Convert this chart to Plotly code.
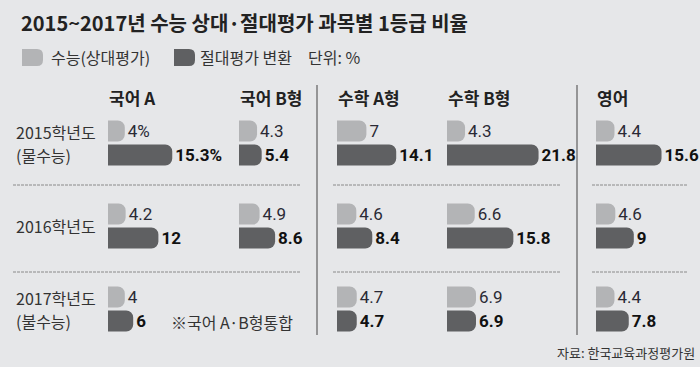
import plotly.graph_objects as go

# ---------------- data ----------------
years = ["2015학년도", "2016학년도", "2017학년도"]
year_line1 = ["2015학년도", "2016학년도", "2017학년도"]
year_line2 = ["(물수능)", "", "(불수능)"]
subjects = ["국어 A", "국어 B형", "수학 A형", "수학 B형", "영어"]

relative_kor_a = [4, 4.2, 4]
absolute_kor_a = [15.3, 12, 6]
relative_kor_b = [4.3, 4.9, None]
absolute_kor_b = [5.4, 8.6, None]
relative_math_a = [7, 4.6, 4.7]
absolute_math_a = [14.1, 8.4, 4.7]
relative_math_b = [4.3, 6.6, 6.9]
absolute_math_b = [21.8, 15.8, 6.9]
relative_eng = [4.4, 4.6, 4.4]
absolute_eng = [15.6, 9, 7.8]

relative_text_kor_a = ["4%", "4.2", "4"]
absolute_text_kor_a = ["15.3%", "12", "6"]

title_text = "2015~2017년 수능 상대·절대평가 과목별 1등급 비율"
legend_relative = "수능(상대평가)"
legend_absolute = "절대평가 변환"
unit_text = "단위: %"
note_text = "※국어 A·B형통합"
source_text = "자료: 한국교육과정평가원"

# ---------------- style ----------------
W, H = 700, 367
BG = "#e6e7e9"
LIGHT = "#b3b4b6"
DARK = "#5f6062"
TXT = "#222222"
NUM_FONT = "Liberation Sans Narrow, Roboto, sans-serif"
KR_FONT = "Noto Sans CJK KR, sans-serif"
PX_PER_UNIT = 4.2
XMAX = 24


def px(x):
    return x / W


def py(y):
    return 1 - y / H


relative_all = [relative_kor_a, relative_kor_b, relative_math_a, relative_math_b, relative_eng]
absolute_all = [absolute_kor_a, absolute_kor_b, absolute_math_a, absolute_math_b, absolute_eng]
starts = [108, 239, 337, 447, 596]


def fmt(v):
    if v is None:
        return ""
    return f"{v:g}"


fig = go.Figure()

for i, (rel, ab) in enumerate(zip(relative_all, absolute_all)):
    xa = "x" if i == 0 else f"x{i+1}"
    if i == 0:
        rt, at = relative_text_kor_a, absolute_text_kor_a
    else:
        rt = [fmt(v) for v in rel]
        at = [fmt(v) for v in ab]
    fig.add_trace(go.Bar(
        y=years, x=rel, orientation="h", xaxis=xa, yaxis="y",
        marker=dict(color=LIGHT, cornerradius=7, line=dict(width=0)),
        text=rt, textposition="outside", cliponaxis=False, constraintext="none",
        textfont=dict(family=NUM_FONT, size=17, color="#2a2a35"),
        hoverinfo="skip", showlegend=False,
    ))
    fig.add_trace(go.Bar(
        y=years, x=ab, orientation="h", xaxis=xa, yaxis="y",
        marker=dict(color=DARK, cornerradius=7, line=dict(width=0)),
        text=at, textposition="outside", cliponaxis=False, constraintext="none",
        textfont=dict(family=NUM_FONT, size=17, color="#111111", weight="bold"),
        hoverinfo="skip", showlegend=False,
    ))

layout = dict(
    width=W, height=H,
    margin=dict(l=0, r=0, t=0, b=0),
    paper_bgcolor=BG, plot_bgcolor=BG,
    barmode="group", bargap=0.42, bargroupgap=0.125,
    showlegend=False,
    yaxis=dict(type="category", categoryorder="array", categoryarray=years,
               range=[2.5, -0.5], domain=[py(350.5), py(101.5)],
               visible=False, fixedrange=True),
)
for i, s in enumerate(starts):
    key = "xaxis" if i == 0 else f"xaxis{i+1}"
    layout[key] = dict(domain=[px(s), px(s + XMAX * PX_PER_UNIT)], range=[0, XMAX],
                       anchor="y", visible=False, fixedrange=True)
fig.update_layout(**layout)

annotations = []
# title
annotations.append(dict(text=f"<b>{title_text}</b>", x=px(19), y=py(22), xref="paper", yref="paper",
                        xanchor="left", yanchor="middle", showarrow=False,
                        font=dict(family=KR_FONT, size=20, color=TXT)))
# legend texts
annotations.append(dict(text=legend_relative, x=px(49), y=py(57), xref="paper", yref="paper",
                        xanchor="left", yanchor="middle", showarrow=False,
                        font=dict(family=KR_FONT, size=16, color="#333333")))
annotations.append(dict(text=legend_absolute, x=px(198), y=py(57), xref="paper", yref="paper",
                        xanchor="left", yanchor="middle", showarrow=False,
                        font=dict(family=KR_FONT, size=16, color="#333333")))
annotations.append(dict(text=unit_text, x=px(306), y=py(57), xref="paper", yref="paper",
                        xanchor="left", yanchor="middle", showarrow=False,
                        font=dict(family=KR_FONT, size=16, color="#333333")))
# subject headers
for s, name in zip(starts, subjects):
    annotations.append(dict(text=f"<b>{name}</b>", x=px(s - 1), y=py(98), xref="paper", yref="paper",
                            xanchor="left", yanchor="middle", showarrow=False,
                            font=dict(family=KR_FONT, size=17, color=TXT)))
# row labels
for yr, l1, l2 in zip(years, year_line1, year_line2):
    if l2:
        annotations.append(dict(text=l1, x=px(14), y=yr, xref="paper", yref="y", yshift=11,
                                xanchor="left", yanchor="middle", showarrow=False,
                                font=dict(family=KR_FONT, size=16, color="#333333")))
        annotations.append(dict(text=l2, x=px(14), y=yr, xref="paper", yref="y", yshift=-12,
                                xanchor="left", yanchor="middle", showarrow=False,
                                font=dict(family=KR_FONT, size=16, color="#333333")))
    else:
        annotations.append(dict(text=l1, x=px(14), y=yr, xref="paper", yref="y",
                                xanchor="left", yanchor="middle", showarrow=False,
                                font=dict(family=KR_FONT, size=16, color="#333333")))
# note
annotations.append(dict(text=note_text, x=px(169), y=py(322), xref="paper", yref="paper",
                        xanchor="left", yanchor="middle", showarrow=False,
                        font=dict(family=KR_FONT, size=16, color="#333333")))
# source
annotations.append(dict(text=source_text, x=px(697), y=py(352), xref="paper", yref="paper",
                        xanchor="right", yanchor="middle", showarrow=False,
                        font=dict(family=KR_FONT, size=13, color="#333333")))
fig.update_layout(annotations=annotations)

shapes = []


def swatch(x0, y0, w, h, r, color):
    x1, y1 = x0 + w, y0 + h
    path = (f"M {px(x0)} {py(y0)} L {px(x1 - r)} {py(y0)} "
            f"Q {px(x1)} {py(y0)} {px(x1)} {py(y0 + r)} "
            f"L {px(x1)} {py(y1 - r)} Q {px(x1)} {py(y1)} {px(x1 - r)} {py(y1)} "
            f"L {px(x0)} {py(y1)} Z")
    return dict(type="path", path=path, xref="paper", yref="paper",
                fillcolor=color, line=dict(width=0), layer="above")


shapes.append(swatch(22, 49, 21, 17, 6, LIGHT))
shapes.append(swatch(174, 49, 21, 17, 6, DARK))

# vertical separators
for xv in [317, 577]:
    shapes.append(dict(type="line", x0=px(xv), x1=px(xv), y0=py(85), y1=py(335),
                       xref="paper", yref="paper", line=dict(color="#7a7a7a", width=1.5)))
# dashed row separators
for yv in [185, 272]:
    for xa, xb in [(13, 300), (333, 560), (592, 687)]:
        shapes.append(dict(type="line", x0=px(xa), x1=px(xb), y0=py(yv), y1=py(yv),
                           xref="paper", yref="paper",
                           line=dict(color="#8a8a8a", width=1, dash="3px,1px")))
fig.update_layout(shapes=shapes)

fig.write_html("out.html", config={"displayModeBar": False},
               post_script="document.body.style.margin='0';document.body.style.padding='0';document.body.style.overflow='hidden';")
